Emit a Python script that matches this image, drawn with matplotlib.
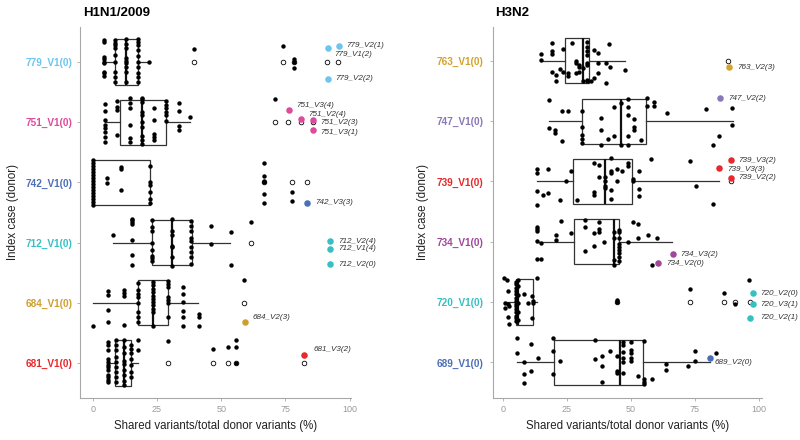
import matplotlib
matplotlib.use("Agg")
import matplotlib.pyplot as plt

plt.rcParams['font.family'] = ['Liberation Sans', 'DejaVu Sans']

# ---------------- H1N1/2009 (rows listed bottom -> top) ----------------
h1_cases = ["681_V1(0)", "684_V1(0)", "712_V1(0)", "742_V1(0)", "751_V1(0)", "779_V1(0)"]
h1_colors = ["#E8282B", "#CDA02E", "#38BFC2", "#4D6FB6", "#DE4A9C", "#6BC5EE"]
# q1, median, q3, whisker low, whisker high
h1_box = [(8.8, 12.0, 15.0, 5.9, 17.5),
          (17.5, 23.6, 29.1, 0.0, 41.0),
          (23.0, 30.8, 38.6, 7.9, 53.6),
          (0.0, 0.0, 22.3, 0.0, 22.3),
          (10.7, 19.2, 28.5, 4.9, 37.9),
          (8.8, 13.0, 17.5, 4.3, 22.0)]
h1_outliers = [[29.4, 46.9, 52.7, 55.8, 82.3],
               [58.8],
               [61.6],
               [66.5, 77.5, 83.3],
               [71.1, 75.9, 80.9, 85.9],
               [39.2, 73.9, 78.3, 91.2, 95.6]]
# jittered points: x value -> vertical jitter of each point (in row units)
h1_points = [
    {5.9: [.35, .3, .21, .06, .02, -.04, -.07, -.12, -.2, -.23, -.28, -.32],
     8.9: [.38, .3, .21, .1, .02, -.07, -.15, -.23, -.32],
     12.0: [.38, .27, .16, .04, -.01, -.12, -.2, -.29, -.37],
     15.0: [.3, .24, .16, .07, -.04, -.15, -.23],
     17.5: [.39, .22], 29.4: [.36], 46.9: [.24], 52.7: [.27],
     55.8: [.38, .27, 0]},
    {0.0: [-.38], 5.9: [.2, .13, -.12, -.31], 12.0: [.22, .16, .11, -.36],
     17.5: [.33, .21, .15, .1, -.01, -.15, -.24, -.32],
     23.6: [.35, .29, .23, .18, .12, .07, .01, -.04, -.1, -.15, -.38],
     29.1: [.37, .31, .26, .1, .04, -.01, -.24],
     35.2: [.26, .15, .01, -.13, -.24, -.38],
     41.4: [-.18, -.24, -.38], 58.8: [.38]},
    {7.9: [.12], 15.3: [.39, .37, .34, .31, .05, -.2, -.37],
     23.0: [.37, .26, .2, 0, -.12, -.22, -.26, -.3],
     30.7: [.39, .2, .12, -.05, -.08, -.24, -.38],
     38.2: [.36, .28, .2, .08, .02, -.08, -.16, -.24, -.36],
     45.9: [.28, -.02], 53.7: [.18, -.37], 61.6: [.34]},
    {0.0: [.38, .33, .28, .23, .18, .13, .08, .03, -.02, -.07, -.12, -.17, -.22, -.27, -.32, -.37],
     5.5: [.08, -.01], 11.1: [.25, .22, -.13],
     22.3: [.27, 0, -.04, -.16, -.27, -.35],
     66.5: [.32, .1, .02, 0, -.2, -.35], 77.5: [-.16, -.31]},
    {4.9: [.3, .18, .03, -.05, -.1, -.16, -.24, -.33],
     9.4: [.36, .25, .21, -.22],
     14.3: [.4, .32, .23, -.05, -.27, -.33],
     19.1: [.41, .38, .34, .17, .12, 0, -.08, -.23, -.3, -.36],
     23.7: [.23, .03, -.2, -.25, -.29],
     28.5: [.36, .28, .23, .17, .12, .02],
     33.4: [.32, .19, -.07, -.13], 37.9: [.08], 71.1: [.38]},
    {4.3: [.37, .34, .08, .05, 0, -.02, -.16, -.19, -.23],
     8.8: [.37, .32, .28, .23, .12, 0, -.16, -.25, -.33],
     13.0: [.38, .3, .23, .06, .02, -.02, -.08, -.16, -.33],
     17.5: [.38, .34, .28, .2, .1, 0, -.09, -.18, -.25, -.33],
     22.0: [0], 39.2: [.21], 73.9: [.26], 78.3: [.05, 0, -.1]},
]
h1_highlight = [
    [("681_V3(2)", 82.4, .13)],
    [("684_V2(3)", 59.1, -.32)],
    [("712_V2(4)", 92.3, .02), ("712_V1(4)", 92.3, -.1), ("712_V2(0)", 92.3, -.36)],
    [("742_V3(3)", 83.4, -.34)],
    [("751_V3(4)", 76.3, .21), ("751_V2(4)", 81.1, .06), ("751_V2(3)", 85.9, .03), ("751_V3(1)", 85.9, -.13)],
    [("779_V2(1)", 95.8, .27), ("779_V1(2)", 91.4, .24), ("779_V2(2)", 91.4, -.28)],
]

# ---------------- H3N2 ----------------
h3_cases = ["689_V1(0)", "720_V1(0)", "734_V1(0)", "739_V1(0)", "747_V1(0)", "763_V1(0)"]
h3_colors = ["#4D6FB6", "#38BFC2", "#A0479C", "#E8282B", "#8878B5", "#D4A32F"]
h3_box = [(20.1, 45.8, 54.9, 5.4, 81.0),
          (5.0, 6.0, 11.9, 0.5, 13.2),
          (27.8, 43.4, 45.4, 13.2, 66.0),
          (27.3, 40.0, 50.6, 13.2, 84.6),
          (30.8, 46.0, 55.8, 18.0, 89.9),
          (24.3, 31.2, 33.8, 14.7, 47.7)]
h3_outliers = [[],
               [44.5, 73.2, 86.6, 90.8, 96.7],
               [],
               [89.1],
               [],
               [88.2]]
h3_points = [
    {5.4: [.4, .15], 8.3: [0, -.2, -.34], 11.0: [.3, -.15], 13.8: [.07],
     19.4: [.4, .19, -.2], 22.3: [.03], 36.0: [.37, .05], 38.9: [.1, -.06, -.32],
     41.9: [.19], 44.5: [.1, -.14, -.17], 47.1: [.34, .29, .18, .07, .01, -.17],
     50.0: [.34, .2, .16, .07, .03], 52.7: [-.23], 55.3: [.36, -.28, -.32, -.35],
     58.2: [-.28], 63.8: [-.03, -.12], 72.3: [-.06], 75.1: [.19, .03], 83.3: [.16]},
    {0.5: [.4], 0.9: [-.02], 0.7: [-.1], 1.4: [.36], 1.8: [.19, -.04, -.24], 2.3: [-.06, -.37],
     5.2: [.34, .3, .23, .19, .14, .07, .01, -.03, -.07, -.12, -.17, -.23, -.27, -.32],
     6.0: [.37, .27, .12, -.02, -.16, -.29],
     8.3: [.14], 9.9: [-.02], 11.5: [.1, -.27], 11.9: [.01, -.02], 13.2: [.4],
     44.5: [.03, 0], 73.2: [.22], 86.6: [.15], 90.8: [-.04], 96.4: [.37]},
    {13.2: [.25, .21, .18, .02, -.28], 14.9: [-.28, -.02], 20.7: [.11, .03], 22.6: [.35],
     26.5: [.15], 32.1: [.36, .24, -.15], 35.7: [-.07, .15], 37.7: [.32, .21, .17],
     39.6: [0], 43.4: [.17, .06, -.3, -.39],
     45.4: [.2, .17, .07, -.03, -.08, -.14, -.19, -.26, -.32],
     49.0: [0], 51.0: [.32], 52.7: [.3, .07], 56.6: [.11], 58.4: [-.39], 60.4: [.06]},
    {13.2: [.2, .14, -.15, -.39], 15.5: [-.22], 17.7: [.2, -.19], 22.3: [-.3], 24.5: [.01],
     26.6: [.18], 28.8: [-.3], 35.6: [.31, -.18, -.22], 37.7: [.28, .07],
     39.9: [.07, .01, -.07, -.11], 42.1: [.39, .18, .14, -.14, -.29], 44.5: [.2, 0],
     46.7: [.18], 48.8: [.31, .26], 51.0: [.04, 0], 53.3: [.18, -.13, -.24],
     57.8: [.37], 73.2: [.34], 75.5: [-.07], 82.0: [-.37]},
    {18.0: [.35, -.12], 20.3: [-.14, -.19], 23.0: [.16, -.33], 25.6: [.16],
     30.8: [.16, -.1, -.23, -.3, -.37], 38.3: [.06, -.15, -.4], 41.0: [-.3],
     43.6: [.23, -.25], 46.2: [.3, -.4], 48.8: [.36, .23, .1, -.25, -.4],
     51.4: [.03, -.1, -.15], 54.0: [-.32], 56.5: [.39, .25], 59.1: [.32, .25],
     64.0: [.14], 79.4: [.2], 82.0: [-.4], 84.6: [-.25], 89.7: [.21, -.06]},
    {14.7: [.12, .02], 19.3: [.3, .17, .12, -.18], 20.7: [-.24, -.33], 22.3: [-.14],
     23.6: [.2, -.18], 25.3: [-.2, -.25], 26.9: [.3], 28.4: [0, -.03, -.2],
     29.7: [-.07, -.11, -.18], 31.2: [-.12, -.33],
     32.7: [.31, .23, .17, .1, -.03, -.07, -.32, -.33], 34.3: [-.33], 35.7: [.18, -.29],
     37.3: [.13, -.03, -.2], 40.3: [-.03, -.36], 41.6: [.28], 42.0: [-.1], 47.7: [-.15]},
]
h3_highlight = [
    [("689_V2(0)", 81.0, .07)],
    [("720_V2(0)", 97.7, .15), ("720_V3(1)", 97.7, -.04), ("720_V2(1)", 96.6, -.26)],
    [("734_V3(2)", 66.4, -.21), ("734_V2(0)", 60.8, -.36)],
    [("739_V3(2)", 89.1, .35), ("739_V3(3)", 84.6, .22), ("739_V2(2)", 89.1, .06)],
    [("747_V2(2)", 84.9, .38)],
    [("763_V2(3)", 88.5, -.11)],
]

# label offsets (pixels right, up) from the highlighted point
nudge = {"779_V1(2)": (4, -7), "751_V3(4)": (5, 4), "751_V2(4)": (4, 4),
         "751_V2(3)": (4, -2), "751_V3(1)": (4, -2), "684_V2(3)": (5, 5),
         "681_V3(2)": (6, 6), "739_V3(3)": (5, -1.5), "720_V2(1)": (8, 0),
         "689_V2(0)": (1.5, -4)}

fig = plt.figure(figsize=(8, 4.4), dpi=100)
ax1 = fig.add_axes([0.1, 0.0955, 0.339, 0.843])
ax2 = fig.add_axes([0.616, 0.0955, 0.337, 0.843])

axis_gray = "#A8A8A8"


def draw_panel(ax, cases, colors, box, outliers, points, highlight, xlim, ylim, ypad):
    stats = [dict(q1=b[0], med=b[1], q3=b[2], whislo=b[3], whishi=b[4], fliers=[])
             for b in box]
    ax.bxp(stats, positions=range(len(cases)), widths=0.75, orientation='horizontal',
           showcaps=False, showfliers=False, patch_artist=True,
           boxprops=dict(facecolor='white', edgecolor='#333333', linewidth=0.9),
           whiskerprops=dict(color='#333333', linewidth=0.9),
           medianprops=dict(color='#111111', linewidth=1.6), zorder=1)
    for i in range(len(cases)):
        if outliers[i]:
            ax.scatter(outliers[i], [i] * len(outliers[i]), s=11, facecolors='white',
                       edgecolors='black', linewidths=0.6, zorder=2)
        xs, ys = [], []
        for x, dys in points[i].items():
            for d in dys:
                xs.append(x)
                ys.append(i + d)
        ax.scatter(xs, ys, s=10, color='black', linewidths=0, zorder=3)
        for lab, x, d in highlight[i]:
            ax.scatter([x], [i + d], s=22, color=colors[i], linewidths=0, zorder=4)
            dx, dy = nudge.get(lab, (5, 0))
            ax.annotate(lab, (x, i + d), xytext=(dx * 0.72 + 2, dy * 0.72),
                        textcoords='offset points', ha='left', va='center',
                        fontsize=5.9, style='italic', color='#333333', zorder=5)

    ax.set_xlim(*xlim)
    ax.set_ylim(*ylim)
    ax.set_xticks([0, 25, 50, 75, 100])
    ax.set_yticks(range(len(cases)))
    ax.set_yticklabels(cases, fontsize=7.2, fontweight='bold')
    for t, c in zip(ax.get_yticklabels(), colors):
        t.set_color(c)
    ax.tick_params(axis='x', length=2.5, width=0.6, color=axis_gray, labelcolor='#9A9A9A',
                   labelsize=6.5, pad=2.5)
    ax.tick_params(axis='y', length=2.2, width=0.6, color=axis_gray, pad=ypad)
    for s in ['top', 'right']:
        ax.spines[s].set_visible(False)
    for s in ['left', 'bottom']:
        ax.spines[s].set_color(axis_gray)
        ax.spines[s].set_linewidth(0.8)
    ax.set_xlabel("Shared variants/total donor variants (%)", fontsize=8.3,
                  color='#222222', labelpad=4.5)


draw_panel(ax1, h1_cases, h1_colors, h1_box, h1_outliers, h1_points, h1_highlight,
           (-5, 100.6), (-0.58, 5.58), 3)
draw_panel(ax2, h3_cases, h3_colors, h3_box, h3_outliers, h3_points, h3_highlight,
           (-4, 101.5), (-0.59, 5.56), 4.5)

fig.text(83 / 800, 1 - 13 / 440, "H1N1/2009", fontsize=9.5, fontweight='bold',
         ha='left', va='center')
fig.text(495 / 800, 1 - 13 / 440, "H3N2", fontsize=9.5, fontweight='bold',
         ha='left', va='center')
fig.text(13 / 800, 0.518, "Index case (donor)", rotation=90, fontsize=8.3,
         color='#222222', ha='center', va='center')
fig.text(423 / 800, 0.518, "Index case (donor)", rotation=90, fontsize=8.3,
         color='#222222', ha='center', va='center')

fig.savefig("out.png", dpi=100)
